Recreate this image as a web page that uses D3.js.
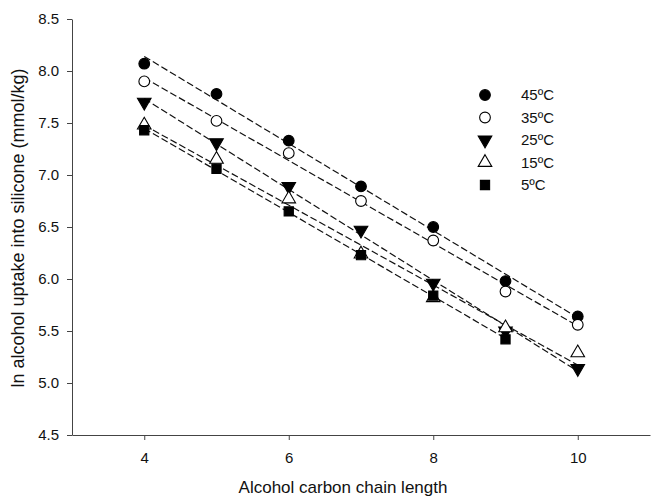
<!DOCTYPE html>
<html>
<head>
<meta charset="utf-8">
<script src="https://cdn.jsdelivr.net/npm/d3@7"></script>
<style>
  body { margin: 0; background: #fff; }
  text { font-family: "Liberation Sans", Arial, sans-serif; fill: #111; }
</style>
</head>
<body>
<svg id="chart"></svg>
<script>
const width = 652;
const height = 497;

// chain lengths
const chain = [4, 5, 6, 7, 8, 9, 10];

// ln uptake per temperature
const t45 = [8.07, 7.78, 7.33, 6.89, 6.50, 5.98, 5.64];
const t35 = [7.90, 7.52, 7.21, 6.75, 6.37, 5.88, 5.56];
const t25 = [7.70, 7.31, 6.89, 6.47, 5.96, 5.50, 5.14];
const t15 = [7.48, 7.15, 6.77, 6.24, 5.82, 5.53, 5.29];
const t5 = [7.43, 7.06, 6.65, 6.23, 5.84, 5.42];

const seriesNames = ["45ºC", "35ºC", "25ºC", "15ºC", "5ºC"];
const seriesValues = [t45, t35, t25, t15, t5];
const xTicks = [4, 6, 8, 10];
const yTicks = [4.5, 5.0, 5.5, 6.0, 6.5, 7.0, 7.5, 8.0, 8.5];

// marker style per series
const symbols = [d3.symbolCircle, d3.symbolCircle, d3.symbolTriangle, d3.symbolTriangle, d3.symbolSquare];
const fills = ["#000", "#fff", "#000", "#fff", "#000"];
const rotations = [0, 0, 180, 0, 0];
const sizes = [90, 90, 80, 80, 85];

const svg = d3.select("#chart")
    .attr("width", width)
    .attr("height", height);

const x = d3.scaleLinear().domain([3, 11]).range([72, 650]);
const y = d3.scaleLinear().domain([4.5, 8.5]).range([435, 19]);

// axes
const xAxis = svg.append("g")
    .attr("transform", `translate(0,${y(4.5)})`)
    .call(d3.axisBottom(x).tickValues(xTicks).tickSize(5).tickPadding(12).tickSizeOuter(0));
const yAxis = svg.append("g")
    .attr("transform", `translate(${x(3)},0)`)
    .call(d3.axisLeft(y).tickValues(yTicks).tickFormat(d3.format(".1f")).tickSize(5).tickPadding(8).tickSizeOuter(0));

[xAxis, yAxis].forEach(g => {
    g.select(".domain").attr("stroke", "#444");
    g.selectAll(".tick line").attr("stroke", "#444");
    g.selectAll(".tick text").style("font-size", "15px").attr("fill", "#111");
});

svg.append("text")
    .attr("x", 343)
    .attr("y", 493)
    .attr("text-anchor", "middle")
    .style("font-size", "17px")
    .text("Alcohol carbon chain length");

svg.append("text")
    .attr("transform", `translate(24,228) rotate(-90)`)
    .attr("text-anchor", "middle")
    .style("font-size", "18px")
    .text("ln alcohol uptake into silicone (mmol/kg)");

// least squares fit for each series
const fit = vals => {
    const xs = chain.slice(0, vals.length);
    const mx = d3.mean(xs), my = d3.mean(vals);
    const sxy = d3.sum(xs, (v, i) => (v - mx) * (vals[i] - my));
    const sxx = d3.sum(xs, v => (v - mx) * (v - mx));
    const b = sxy / sxx;
    return {a: my - b * mx, b: b, x0: xs[0], x1: xs[xs.length - 1]};
};

const lines = svg.append("g");
seriesValues.forEach(vals => {
    const f = fit(vals);
    lines.append("line")
        .attr("x1", x(f.x0))
        .attr("y1", y(f.a + f.b * f.x0))
        .attr("x2", x(f.x1))
        .attr("y2", y(f.a + f.b * f.x1))
        .attr("stroke", "#111")
        .attr("stroke-width", 1.2)
        .attr("stroke-dasharray", "7,3");
});

// markers
const marks = svg.append("g");
seriesValues.forEach((vals, s) => {
    const sym = d3.symbol().type(symbols[s]).size(sizes[s]);
    marks.selectAll(null)
        .data(vals)
        .enter().append("path")
        .attr("d", sym)
        .attr("transform", (d, i) => `translate(${x(chain[i])},${y(d)}) rotate(${rotations[s]})`)
        .attr("fill", fills[s])
        .attr("stroke", "#000")
        .attr("stroke-width", 1.1);
});

// legend
const legend = svg.append("g");
seriesNames.forEach((name, s) => {
    const ly = 95 + s * 22.5;
    legend.append("path")
        .attr("d", d3.symbol().type(symbols[s]).size(sizes[s]))
        .attr("transform", `translate(485,${ly}) rotate(${rotations[s]})`)
        .attr("fill", fills[s])
        .attr("stroke", "#000")
        .attr("stroke-width", 1.1);
    legend.append("text")
        .attr("x", 521)
        .attr("y", ly + 5)
        .style("font-size", "15px")
        .text(name);
});
</script>
</body>
</html>
